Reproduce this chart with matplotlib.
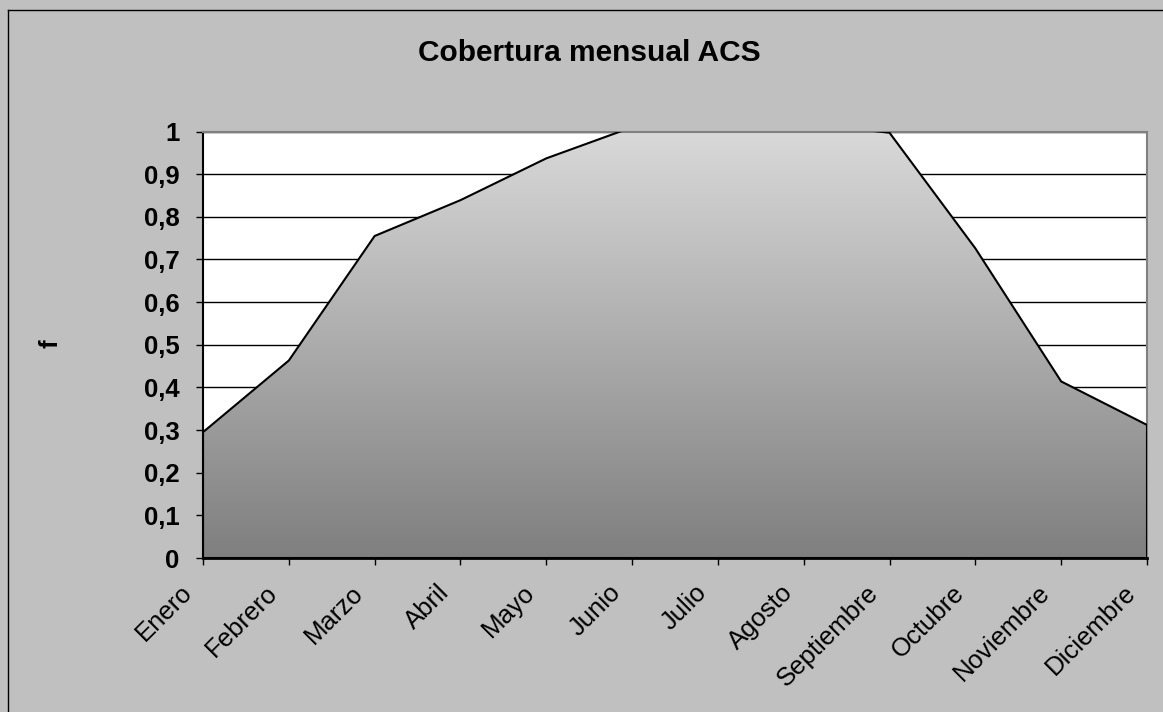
import numpy as np
import matplotlib
matplotlib.use("Agg")
import matplotlib.pyplot as plt
from matplotlib.colors import LinearSegmentedColormap
from matplotlib.patches import Polygon
from matplotlib.transforms import ScaledTranslation

plt.rcParams['font.family'] = ['Liberation Sans', 'DejaVu Sans']

# Data
meses = ['Enero', 'Febrero', 'Marzo', 'Abril', 'Mayo', 'Junio', 'Julio',
         'Agosto', 'Septiembre', 'Octubre', 'Noviembre', 'Diciembre']
cobertura = [0.295, 0.463, 0.755, 0.839, 0.937, 1.01, 1.03, 1.02,
             0.997, 0.726, 0.414, 0.312]
y_ticks = [0.0, 0.1, 0.2, 0.3, 0.4, 0.5, 0.6, 0.7, 0.8, 0.9, 1.0]
y_labels = ['0', '0,1', '0,2', '0,3', '0,4', '0,5', '0,6', '0,7', '0,8', '0,9', '1']
titulo = 'Cobertura mensual ACS'

W, H = 1163, 712
fig = plt.figure(figsize=(W / 100, H / 100), dpi=100)
fig.patch.set_facecolor('#C0C0C0')

# chart border (left and top visible)
fig.add_artist(plt.Line2D([8 / W, 8 / W], [0, 1 - 10 / H], transform=fig.transFigure,
                          color='black', lw=1))
fig.add_artist(plt.Line2D([8 / W, 1], [1 - 10 / H, 1 - 10 / H], transform=fig.transFigure,
                          color='black', lw=1))

left, right, top, bottom = 203, 1147, 131.5, 558
ax = fig.add_axes([left / W, 1 - bottom / H, (right - left) / W, (bottom - top) / H])
ax.set_facecolor('white')

xs = np.arange(len(meses))
verts = list(zip(xs, cobertura)) + [(xs[-1], 0), (xs[0], 0)]
patch = Polygon(verts, closed=True, facecolor='none', edgecolor='black',
                lw=1.5, zorder=3, joinstyle='miter')
ax.add_patch(patch)

cmap = LinearSegmentedColormap.from_list('g', ['#7f7f7f', '#d9d9d9'])
grad = np.linspace(0, 1, 256).reshape(-1, 1)
im = ax.imshow(grad, extent=[xs[0], xs[-1], 0, 1], origin='lower', cmap=cmap,
               aspect='auto', zorder=2, interpolation='bilinear')
im.set_clip_path(patch)

ax.set_xlim(xs[0], xs[-1])
ax.set_ylim(0, 1)

ax.set_yticks(y_ticks)
ax.set_yticklabels(y_labels, fontsize=18.5, fontweight='bold')
ax.yaxis.grid(True, color='black', lw=1)
ax.set_axisbelow(True)

ax.set_xticks(xs)
ax.set_xticklabels([])
offset = ScaledTranslation(-15 / 100, -31 / 100, fig.dpi_scale_trans)
for x, m in zip(xs, meses):
    ax.text(x, 0, m, transform=ax.get_xaxis_transform() + offset,
            fontsize=18.5, rotation=45, ha='right', va='center',
            rotation_mode='anchor')

ax.tick_params(axis='both', direction='out', length=5, width=1, color='black')
ax.tick_params(axis='y', pad=12)

for s in ['left', 'bottom']:
    ax.spines[s].set_color('black')
ax.spines['left'].set_linewidth(1.5)
ax.spines['bottom'].set_linewidth(2)
for s in ['top', 'right']:
    ax.spines[s].set_color('#808080')
    ax.spines[s].set_linewidth(1.5)

fig.text(589 / W, 1 - 53 / H, titulo, fontsize=21.5, fontweight='bold',
         ha='center', va='center')
fig.text(50 / W, 1 - 344 / H, 'f', fontsize=18.5, fontweight='bold', rotation=90,
         ha='center', va='center')

fig.savefig('out.png', dpi=100, facecolor=fig.get_facecolor())
